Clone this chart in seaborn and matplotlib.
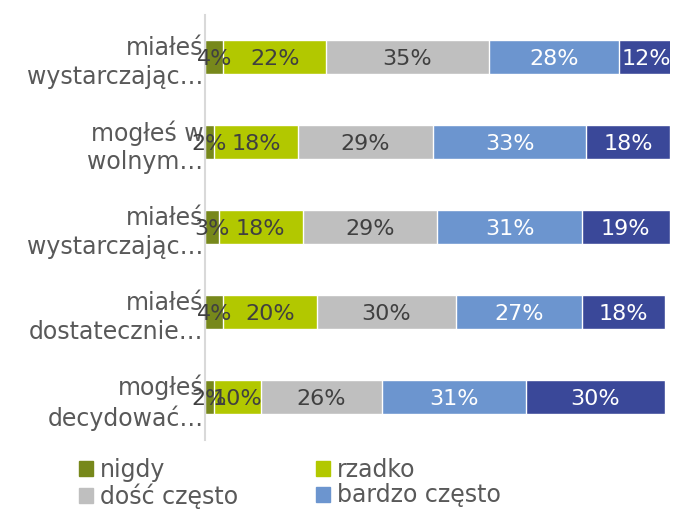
import numpy as np
import pandas as pd
import seaborn as sns
import matplotlib.pyplot as plt
from matplotlib.patches import Patch

categories = ["miałeś\nwystarczając…", "mogłeś w\nwolnym…", "miałeś\nwystarczając…",
              "miałeś\ndostatecznie…", "mogłeś\ndecydować…"]
series = ["nigdy", "rzadko", "dość często", "bardzo często", "zawsze"]
nigdy = [4, 2, 3, 4, 2]
rzadko = [22, 18, 18, 20, 10]
dosc_czesto = [35, 29, 29, 30, 26]
bardzo_czesto = [28, 33, 31, 27, 31]
zawsze = [12, 18, 19, 18, 30]

colors = ["#77881B", "#B2C800", "#BFBFBF", "#6C95CF", "#3A4899"]
text_colors = ["#404040", "#404040", "#404040", "white", "white"]

sns.set_style("white")
plt.rcParams['font.family'] = ['DejaVu Sans']

values = np.array([nigdy, rzadko, dosc_czesto, bardzo_czesto, zawsze], dtype=float)
cum = values.cumsum(axis=0)
ids = [f"c{i}" for i in range(len(categories))]

fig = plt.figure(figsize=(6.74, 5.11), dpi=100)
ax = fig.add_axes([0.304, 0.139, 0.69, 0.832])

# stacked bars: draw cumulative totals from the largest down
for k in range(len(series) - 1, -1, -1):
    df = pd.DataFrame({"cat": ids, "val": cum[k]})
    sns.barplot(data=df, y="cat", x="val", orient="h", color=colors[k],
                width=0.4, saturation=1, ax=ax)

for k in range(len(series)):
    for i in range(len(categories)):
        center = cum[k, i] - values[k, i] / 2
        ax.text(center, i + 0.02, f"{int(values[k, i])}%", ha="center", va="center",
                fontsize=16, color=text_colors[k], clip_on=False)

ax.set_xlim(0, 100)
ax.set_ylim(len(categories) - 0.5, -0.5)
ax.set_xlabel("")
ax.set_ylabel("")
ax.set_xticks([])
ax.set_yticks(range(len(categories)))
ax.set_yticklabels(categories, fontsize=17, color="#595959", ha="right", linespacing=1.25)
ax.set_yticks(np.arange(-0.5, len(categories), 1), minor=True)
ax.tick_params(axis="y", which="major", length=0, pad=1)
ax.tick_params(axis="y", which="minor", length=5, color="#D9D9D9", width=1.2)
for s in ["top", "right", "bottom"]:
    ax.spines[s].set_visible(False)
ax.spines["left"].set_color("#D9D9D9")
ax.spines["left"].set_linewidth(1.5)

# legend: row 1 nigdy / rzadko, row 2 dość często / bardzo często
order = [0, 2, 1, 3]
handles = [Patch(color=colors[k], label=series[k]) for k in order]
fig.legend(handles=handles, loc="upper left", bbox_to_anchor=(0.085, 0.145), ncol=2,
           frameon=False, fontsize=17, labelcolor="#595959", handlelength=0.6,
           handleheight=0.6, handletextpad=0.3, columnspacing=3.3, labelspacing=0.05)

fig.savefig("out.png", dpi=100)
